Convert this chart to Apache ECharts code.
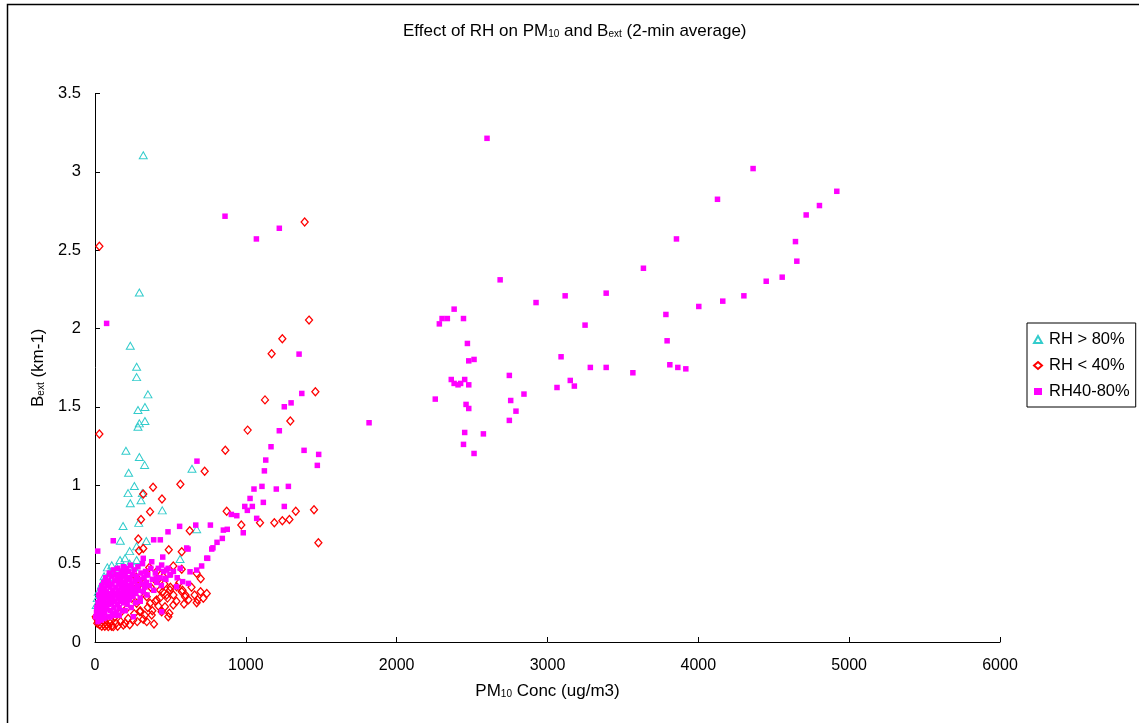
<!DOCTYPE html>
<html>
<head>
<meta charset="utf-8">
<script src="https://cdn.jsdelivr.net/npm/echarts@6/dist/echarts.min.js"></script>
<style>
html,body{margin:0;padding:0;background:#fff;}
#chart{width:1139px;height:723px;}
</style>
</head>
<body>
<div id="chart"></div>
<script>
const X_TICKS = [0, 1000, 2000, 3000, 4000, 5000, 6000];
const Y_TICKS = [0, 0.5, 1, 1.5, 2, 2.5, 3, 3.5];
const SERIES_NAMES = ['RH > 80%', 'RH < 40%', 'RH40-80%'];

// RH > 80%  [PM10, Bext]
const rhHigh = [
  [320,3.106],[294,2.23],[234,1.89],[276,1.756],[276,1.69],[351,1.58],[331,1.50],[285,1.48],
  [331,1.41],[294,1.395],[285,1.373],[205,1.22],[294,1.18],[329,1.13],[223,1.08],[643,1.105],
  [219,0.95],[261,0.995],[314,0.95],[234,0.885],[305,0.905],[446,0.84],[186,0.74],[290,0.76],
  [674,0.72],[168,0.646],[276,0.61],[340,0.644],[230,0.58],[199,0.534],[166,0.523],[276,0.523],
  [564,0.53],[111,0.49],[82,0.476],[144,0.476],[99,0.448],[44,0.364],[22,0.32],[8,0.236],
  [15,0.28],[30,0.3],[50,0.38],[60,0.42],[90,0.4],[130,0.44],[180,0.46],[230,0.5],[260,0.48]
];

// RH < 40%
const rhLow = [
  [29,2.525],[29,1.327],[1390,2.68],[1419,2.054],[1242,1.935],[1171,1.84],[1461,1.597],[1127,1.545],
  [1295,1.41],[1012,1.352],[864,1.224],[727,1.09],[385,0.987],[566,1.006],[444,0.912],[365,0.831],
  [873,0.835],[1452,0.844],[1331,0.835],[970,0.746],[1094,0.761],[1189,0.761],[1242,0.774],[1289,0.782],
  [1481,0.633],[628,0.71],[489,0.589],[575,0.576],[320,0.944],[305,0.782],[287,0.657],[292,0.582],
  [320,0.597],[274,0.413],[360,0.476],[519,0.485],[575,0.464],[674,0.438],[701,0.404],[741,0.31],
  [718,0.279],[674,0.251],[597,0.289],[590,0.242],[519,0.236],[493,0.183],[486,0.161],[442,0.193],
  [391,0.115],[343,0.13],[376,0.172],[298,0.193],[320,0.145],[254,0.14],[188,0.108],[121,0.098],
  [88,0.098],[55,0.115],[22,0.13],[5,0.161],[475,0.30],[431,0.332],[497,0.332],[541,0.353],
  [575,0.32],[409,0.268],[365,0.247],[464,0.225],[343,0.289],[298,0.31],[276,0.247],[243,0.279],
  [210,0.214],[166,0.183],[133,0.161],[99,0.14],[254,0.395],[287,0.36],[398,0.395],[453,0.417],
  [409,0.45],[10,0.15],[15,0.12],[30,0.11],[45,0.1],[65,0.1],[80,0.11],[100,0.12],[110,0.1],
  [140,0.12],[150,0.1],[170,0.13],[200,0.12],[220,0.15],[230,0.11],[260,0.18],[280,0.13],[300,0.2],
  [330,0.17],[350,0.22],[380,0.2],[400,0.26],[420,0.23],[430,0.28],[450,0.32],[460,0.37],[480,0.28],
  [500,0.35],[520,0.3],[540,0.26],[560,0.38],[580,0.33],[600,0.3],[620,0.27],[640,0.35],[660,0.3],
  [680,0.27],[700,0.32],[250,0.33],[330,0.38],[370,0.35],[420,0.4]
];

// RH 40-80%
const rhMid = [
  [2599,3.214],[4127,2.825],[3855,2.572],[3636,2.385],[2686,2.311],[2924,2.166],[3117,2.209],[3389,2.226],
  [4162,2.175],[4003,2.141],[3785,2.09],[3249,2.022],[2381,2.124],[2301,2.064],[2336,2.064],[2443,2.064],
  [2283,2.03],[3793,1.922],[2469,1.905],[2478,1.794],[2513,1.803],[3090,1.82],[3284,1.752],[3389,1.752],
  [3566,1.718],[3811,1.769],[3864,1.752],[3917,1.743],[2747,1.701],[2362,1.675],[2381,1.65],[2407,1.641],
  [2424,1.65],[2451,1.675],[2478,1.641],[3151,1.669],[3178,1.633],[3063,1.624],[2256,1.55],[2844,1.582],
  [2756,1.541],[2791,1.473],[2747,1.414],[2460,1.516],[2478,1.49],[2451,1.337],[2575,1.328],[2443,1.261],
  [2513,1.203],[4363,3.021],[4918,2.876],[4803,2.785],[4715,2.725],[4644,2.555],[4653,2.43],[4556,2.328],
  [4450,2.302],[4302,2.209],
  [862,2.717],[1070,2.572],[1222,2.64],[77,2.033],[1353,1.837],[1371,1.586],[1300,1.526],[1255,1.501],
  [1222,1.348],[1817,1.399],[1167,1.246],[1386,1.223],[1483,1.197],[1132,1.161],[1474,1.127],[1123,1.092],
  [676,1.154],[1054,0.976],[1107,0.993],[1202,0.976],[1282,0.993],[1028,0.916],[1116,0.891],[993,0.865],
  [1043,0.865],[1010,0.84],[1255,0.865],[940,0.806],[904,0.814],[1072,0.789],[983,0.697],[765,0.746],
  [668,0.746],[561,0.738],[484,0.703],[851,0.714],[877,0.719],[844,0.661],[809,0.636],[782,0.601],
  [774,0.593],[617,0.593],[389,0.652],[433,0.652],[449,0.542],[747,0.534],[18,0.58],[121,0.646],
  [707,0.485],[674,0.459],[630,0.448],[619,0.374],[581,0.385],[541,0.353],[497,0.427],[464,0.406],
  [442,0.491],[475,0.459],[376,0.512],[320,0.534],[409,0.406],[343,0.427],[442,0.193],[254,0.161],
  [608,0.6],[741,0.535],
  [5,0.16],[10,0.19],[12,0.22],[15,0.17],[20,0.25],[22,0.2],[25,0.3],[28,0.15],[30,0.27],[33,0.22],
  [35,0.33],[38,0.18],[40,0.24],[42,0.29],[45,0.36],[48,0.21],[50,0.31],[52,0.17],[55,0.26],[58,0.38],
  [60,0.23],[62,0.34],[65,0.19],[68,0.29],[70,0.41],[72,0.25],[75,0.32],[78,0.21],[80,0.36],[82,0.28],
  [85,0.16],[88,0.39],[90,0.24],[92,0.31],[95,0.44],[98,0.27],[100,0.35],[103,0.2],[105,0.3],[108,0.42],
  [110,0.25],[112,0.37],[115,0.18],[118,0.33],[120,0.28],[122,0.46],[125,0.22],[128,0.39],[130,0.31],
  [133,0.26],[135,0.43],[138,0.35],[140,0.19],[143,0.3],[145,0.4],[148,0.24],[150,0.47],[153,0.33],
  [155,0.28],[158,0.37],[160,0.22],[163,0.43],[165,0.31],[168,0.26],[170,0.4],[173,0.35],[175,0.45],
  [178,0.29],[180,0.2],[183,0.38],[185,0.33],[188,0.48],[190,0.25],[193,0.42],[195,0.3],[198,0.36],
  [200,0.44],[203,0.27],[205,0.39],[208,0.33],[210,0.47],[213,0.24],[215,0.36],[218,0.41],[220,0.3],
  [223,0.45],[225,0.35],[228,0.27],[232,0.4],[236,0.49],[240,0.32],[244,0.37],[248,0.43],[252,0.29],
  [256,0.34],[260,0.46],[265,0.39],[270,0.31],[275,0.42],[280,0.36],[285,0.48],[290,0.33],[295,0.4],
  [300,0.28],[305,0.44],[310,0.37],[315,0.5],[320,0.32],[325,0.41],[330,0.35],[335,0.45],[340,0.38],
  [345,0.3],[350,0.43],[360,0.36],[370,0.47],[380,0.4],[390,0.33],[400,0.44],[410,0.38],[420,0.47],
  [430,0.41],[440,0.36],[455,0.45],[470,0.4],[485,0.47],[500,0.43],[520,0.45],[545,0.41],[565,0.47],
  [20,0.13],[40,0.14],[60,0.15],[100,0.16],[130,0.17],[160,0.17],[200,0.2],[240,0.22],[270,0.25],[300,0.26]
];

const FONT = '"Liberation Sans", Arial, sans-serif';
const SUB = {sub: {fontSize: 10, fontFamily: FONT, color: '#000', padding: [6, 0, 0, 0]}};
const chart = echarts.init(document.getElementById('chart'), null, {renderer: 'canvas'});
chart.setOption({
  animation: false,
  backgroundColor: '#fff',
  graphic: [{
    type: 'rect', left: 5, top: 2, z: 100, silent: true,
    shape: {x: 0, y: 0, width: 1200, height: 800},
    style: {fill: 'none', stroke: '#000', lineWidth: 1.5}
  }],
  title: {
    text: 'Effect of RH on PM{sub|10} and B{sub|ext} (2-min average)',
    left: 398, top: 18,
    textStyle: {fontFamily: FONT, fontSize: 17, fontWeight: 'normal', color: '#000', rich: SUB}
  },
  legend: {
    orient: 'vertical', left: 1027, top: 323,
    data: SERIES_NAMES,
    borderColor: '#000', borderWidth: 1, borderRadius: 0,
    padding: [8, 6, 7, 6],
    itemWidth: 8, itemHeight: 7, itemGap: 9,
    textStyle: {fontFamily: FONT, fontSize: 16.5, color: '#000', padding: [0, 0, 0, 2]}
  },
  grid: {left: 95, right: 139, top: 93.5, bottom: 81, containLabel: false},
  xAxis: {
    type: 'value',
    min: X_TICKS[0], max: X_TICKS[X_TICKS.length - 1], interval: X_TICKS[1] - X_TICKS[0],
    name: 'PM{sub|10} Conc (ug/m3)', nameLocation: 'middle', nameGap: 41,
    nameTextStyle: {fontFamily: FONT, fontSize: 17, color: '#000', rich: SUB},
    axisLine: {onZero: false, lineStyle: {color: '#000', width: 1}},
    axisTick: {inside: true, length: 5, lineStyle: {color: '#000'}},
    axisLabel: {margin: 16, fontFamily: FONT, fontSize: 16, color: '#000',
      formatter: function (v) { return String(v); }},
    splitLine: {show: false}
  },
  yAxis: {
    type: 'value',
    min: Y_TICKS[0], max: Y_TICKS[Y_TICKS.length - 1], interval: Y_TICKS[1] - Y_TICKS[0],
    name: 'B{sub|ext} (km-1)', nameLocation: 'middle', nameGap: 47, nameRotate: 90,
    nameTextStyle: {fontFamily: FONT, fontSize: 17, color: '#000', rich: SUB},
    axisLine: {show: true, onZero: false, lineStyle: {color: '#000', width: 1}},
    axisTick: {show: true, inside: true, length: 5, lineStyle: {color: '#000'}},
    axisLabel: {margin: 14, fontFamily: FONT, fontSize: 16.5, color: '#000',
      formatter: function (v) { return String(v); }},
    splitLine: {show: false}
  },
  series: [
    {
      name: SERIES_NAMES[0], type: 'scatter', data: rhHigh,
      symbol: 'triangle', symbolSize: [8, 7],
      itemStyle: {color: 'rgba(255,255,255,0)', borderColor: '#33CCCC', borderWidth: 1, opacity: 1}
    },
    {
      name: SERIES_NAMES[1], type: 'scatter', data: rhLow,
      symbol: 'diamond', symbolSize: [7, 8],
      itemStyle: {color: 'rgba(255,255,255,0)', borderColor: '#FF0000', borderWidth: 1.3, opacity: 1}
    },
    {
      name: SERIES_NAMES[2], type: 'scatter', data: rhMid,
      symbol: 'rect', symbolSize: 5.5,
      itemStyle: {color: '#FF00FF', opacity: 1}
    }
  ]
});
</script>
</body>
</html>
